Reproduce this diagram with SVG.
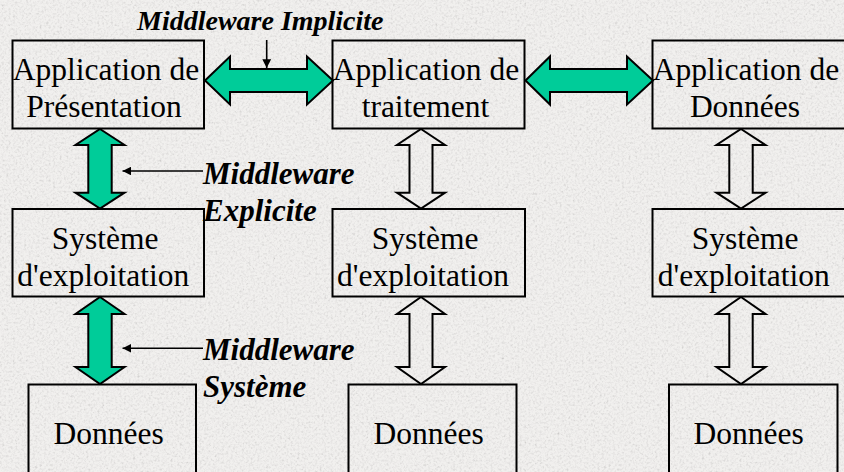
<svg xmlns="http://www.w3.org/2000/svg" width="844" height="472" viewBox="0 0 844 472">
  <defs>
    <style>
      .box { fill: none; stroke: #000; stroke-width: 2; }
      .t { font-family: "Liberation Serif", "Times New Roman", serif; font-size: 31.5px; fill: #000; text-anchor: middle; }
      .lbl { font-family: "Liberation Serif", "Times New Roman", serif; font-size: 31px; font-weight: bold; font-style: italic; fill: #000; }
      .title { font-size: 28px; }
      .big { stroke: #000; stroke-width: 2; stroke-linejoin: miter; }
      .green { fill: #00CC99; }
      .hollow { fill: none; }
      .ptr { stroke: #000; stroke-width: 1.6; fill: none; }
    </style>
    <marker id="head" viewBox="0 0 10 10" refX="10" refY="5" markerWidth="5.5" markerHeight="5.5" orient="auto" markerUnits="strokeWidth">
      <path d="M0,0 L10,5 L0,10 z" fill="#000"/>
    </marker>
    <filter id="tex" x="0" y="0" width="100%" height="100%">
      <feTurbulence type="fractalNoise" baseFrequency="0.45" numOctaves="4" seed="7" result="n"/>
      <feColorMatrix in="n" type="matrix" values="0.7 0.7 0.7 0 -0.15  0.7 0.7 0.7 0 -0.15  0.7 0.7 0.7 0 -0.15  0 0 0 0 0.3"/>
    </filter>
  </defs>

  <rect x="0" y="0" width="844" height="472" fill="#ebe9e7"/>
  <rect x="0" y="0" width="844" height="472" filter="url(#tex)"/>

  <g id="connectors">
    <!-- horizontal green arrows -->
    <polygon class="big green" points="205,80.5 230,56.5 230,69 307,69 307,56.5 333,80.5 307,104.5 307,92 230,92 230,104.5"/>
    <polygon class="big green" points="525.5,80.5 550,56.5 550,69 627,69 627,56.5 653,80.5 627,104.5 627,92 550,92 550,104.5"/>
    <!-- vertical green arrows col 1 -->
    <polygon class="big green" points="100,129 124.5,145 111.7,145 111.7,192.7 124.5,192.7 100,208.5 75.5,192.7 88.3,192.7 88.3,145 75.5,145"/>
    <polygon class="big green" points="100,297 124.5,314 111.7,314 111.7,367 124.5,367 100,384 75.5,367 88.3,367 88.3,314 75.5,314"/>
    <!-- hollow vertical arrows col 2 -->
    <polygon class="big hollow" points="421,129 445,145 432.5,145 432.5,192.7 445,192.7 421,208.5 397,192.7 409.5,192.7 409.5,145 397,145"/>
    <polygon class="big hollow" points="421,297 445,314 432.5,314 432.5,367 445,367 421,384 397,367 409.5,367 409.5,314 397,314"/>
    <!-- hollow vertical arrows col 3 -->
    <polygon class="big hollow" points="741,129 765.5,145 752.7,145 752.7,192.7 765.5,192.7 741,208.5 716.5,192.7 729.3,192.7 729.3,145 716.5,145"/>
    <polygon class="big hollow" points="741,297 765.5,314 752.7,314 752.7,367 765.5,367 741,384 716.5,367 729.3,367 729.3,314 716.5,314"/>
    <!-- pointer lines -->
    <line class="ptr" x1="266.7" y1="40" x2="266.7" y2="68" marker-end="url(#head)"/>
    <line class="ptr" x1="203" y1="171" x2="122.5" y2="171" marker-end="url(#head)"/>
    <line class="ptr" x1="203" y1="348.3" x2="122.5" y2="348.3" marker-end="url(#head)"/>
  </g>

  <g id="app-presentation">
    <rect class="box" x="12.5" y="40.5" width="191.5" height="88"/>
    <text class="t" x="106" y="80">Application de</text>
    <text class="t" x="104" y="117">Présentation</text>
  </g>
  <g id="app-traitement">
    <rect class="box" x="332.5" y="40.5" width="192" height="88"/>
    <text class="t" x="426" y="80">Application de</text>
    <text class="t" x="425.5" y="117">traitement</text>
  </g>
  <g id="app-donnees">
    <rect class="box" x="652.5" y="40.5" width="200" height="88"/>
    <text class="t" x="746" y="80">Application de</text>
    <text class="t" x="745" y="117">Données</text>
  </g>

  <g id="os-1">
    <rect class="box" x="12.5" y="209" width="191.5" height="87.5"/>
    <text class="t" x="105" y="249">Système</text>
    <text class="t" x="103.3" y="286">d'exploitation</text>
  </g>
  <g id="os-2">
    <rect class="box" x="332.5" y="209" width="192.5" height="87.5"/>
    <text class="t" x="425" y="249">Système</text>
    <text class="t" x="423" y="286">d'exploitation</text>
  </g>
  <g id="os-3">
    <rect class="box" x="652.5" y="209" width="200" height="87.5"/>
    <text class="t" x="745" y="249">Système</text>
    <text class="t" x="743.7" y="286">d'exploitation</text>
  </g>

  <g id="data-1">
    <rect class="box" x="28.5" y="384.5" width="167.5" height="100"/>
    <text class="t" x="108.7" y="444">Données</text>
  </g>
  <g id="data-2">
    <rect class="box" x="348.5" y="384.5" width="168" height="100"/>
    <text class="t" x="428.7" y="444">Données</text>
  </g>
  <g id="data-3">
    <rect class="box" x="669" y="384.5" width="168.5" height="100"/>
    <text class="t" x="748.7" y="444">Données</text>
  </g>

  <g id="label-implicite">
    <text class="lbl title" x="137" y="30">Middleware Implicite</text>
  </g>
  <g id="label-explicite">
    <text class="lbl" x="203" y="184">Middleware</text>
    <text class="lbl" x="203" y="221">Explicite</text>
  </g>
  <g id="label-systeme">
    <text class="lbl" x="203" y="360">Middleware</text>
    <text class="lbl" x="203" y="397">Système</text>
  </g>
</svg>
